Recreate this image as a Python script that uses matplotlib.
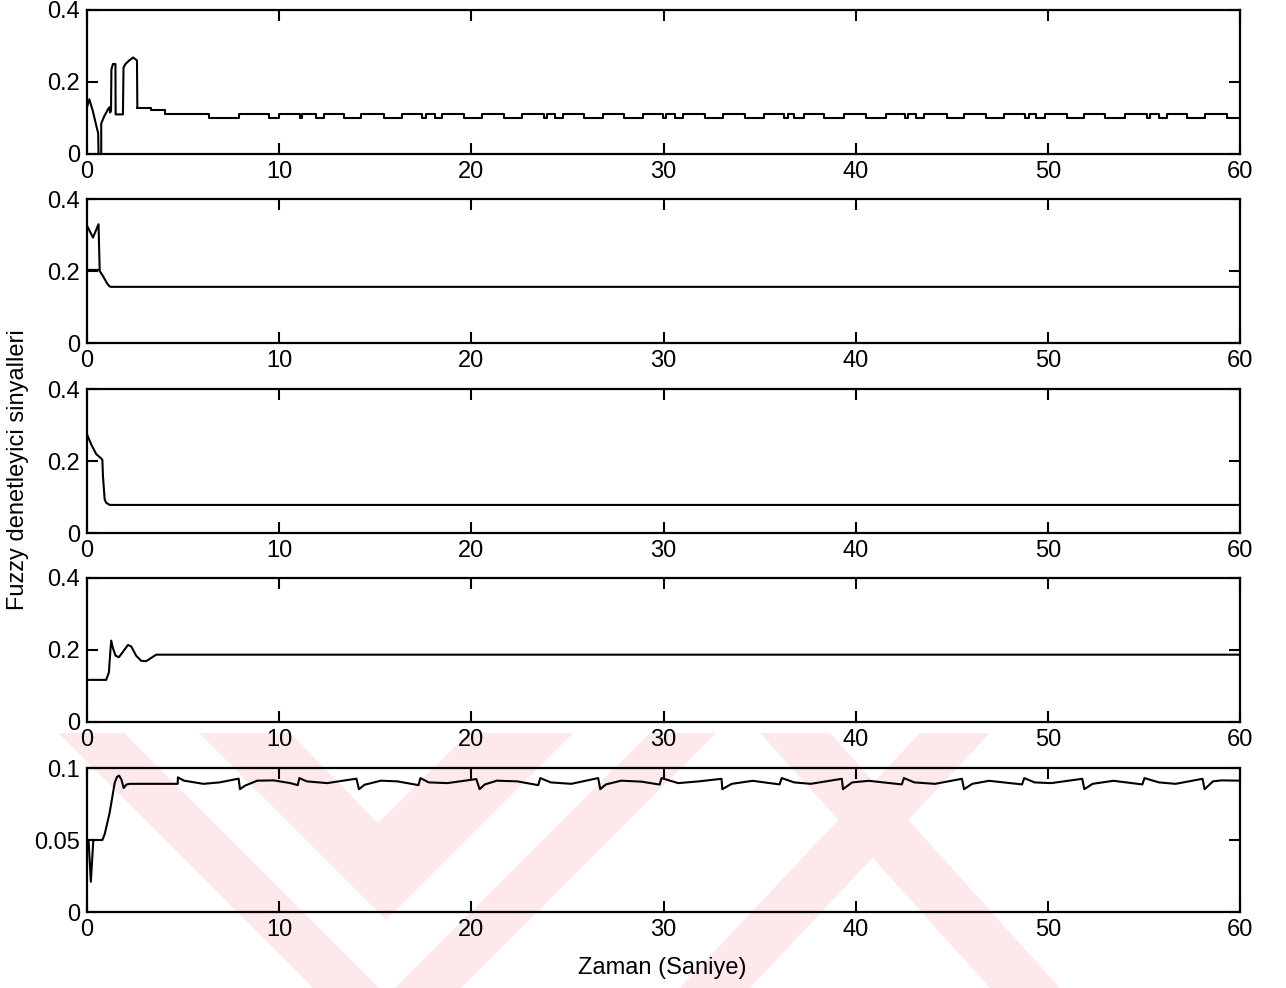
import matplotlib
matplotlib.use("Agg")
import matplotlib.pyplot as plt
from matplotlib.patches import Polygon

plt.rcParams["font.family"] = ["Liberation Sans", "DejaVu Sans"]

# --- signal 1: transient, then a two-level staircase ---
p1_start_t = [0.0, 0.12, 0.30, 0.50, 0.58, 0.60, 0.74, 0.74, 0.90, 1.10, 1.17, 1.20,
              1.25, 1.27, 1.35, 1.48, 1.49, 1.87, 1.90, 2.00, 2.20, 2.40, 2.60, 2.62]
p1_start_y = [0.13, 0.152, 0.12, 0.075, 0.058, 0.0, 0.0, 0.085, 0.105, 0.125, 0.13, 0.115,
              0.12, 0.235, 0.25, 0.25, 0.11, 0.11, 0.24, 0.25, 0.26, 0.268, 0.26, 0.128]
p1_step_t = [2.62, 3.34, 4.08, 6.33, 7.92, 9.45, 10.0, 11.1, 11.2, 11.9, 12.34, 13.37,
             14.24, 15.46, 16.40, 17.44, 17.66, 18.13, 18.47, 19.60, 20.55, 21.68,
             22.66, 23.80, 23.92, 24.36, 24.79, 25.88, 26.87, 27.96, 28.94, 29.98,
             30.15, 30.59, 31.02, 32.14, 33.09, 34.22, 35.22, 36.29, 36.47, 36.81,
             37.33, 38.37, 39.41, 40.53, 41.57, 42.55, 42.74, 43.12, 43.56, 44.77,
             45.64, 46.76, 47.71, 48.83, 49.01, 49.40, 49.87, 50.99, 51.89, 52.98,
             54.02, 55.15, 55.32, 55.76, 56.19, 57.26, 58.17, 59.30, 60.0]
p1_step_y = [0.128, 0.121, 0.112, 0.100, 0.112, 0.100, 0.112, 0.100, 0.112, 0.100, 0.112, 0.100,
             0.112, 0.100, 0.112, 0.100, 0.112, 0.100, 0.112, 0.100, 0.112, 0.100,
             0.112, 0.100, 0.112, 0.100, 0.112, 0.100, 0.112, 0.100, 0.112, 0.100,
             0.112, 0.100, 0.112, 0.100, 0.112, 0.100, 0.112, 0.100, 0.112, 0.100,
             0.112, 0.100, 0.112, 0.100, 0.112, 0.100, 0.112, 0.100, 0.112, 0.100,
             0.112, 0.100, 0.112, 0.100, 0.112, 0.100, 0.112, 0.100, 0.112, 0.100,
             0.112, 0.100, 0.112, 0.100, 0.112, 0.100, 0.112, 0.100, 0.100]

# --- signal 2 ---
p2_a_t = [0.0, 0.62, 0.83, 1.05, 1.18, 1.26, 60.0]
p2_a_y = [0.203, 0.203, 0.186, 0.165, 0.157, 0.156, 0.156]
p2_b_t = [0.0, 0.0, 0.31, 0.60, 0.66]
p2_b_y = [0.203, 0.326, 0.293, 0.330, 0.203]

# --- signal 3 ---
p3_t = [0.0, 0.22, 0.48, 0.74, 0.80, 0.83, 0.92, 1.00, 1.18, 60.0]
p3_y = [0.274, 0.246, 0.219, 0.207, 0.203, 0.158, 0.093, 0.084, 0.078, 0.078]

# --- signal 4 ---
p4_t = [0.0, 1.00, 1.14, 1.21, 1.26, 1.35, 1.49, 1.66, 1.87, 2.13, 2.30, 2.56,
        2.82, 3.08, 3.34, 3.60, 60.0]
p4_y = [0.117, 0.117, 0.138, 0.193, 0.226, 0.205, 0.184, 0.180, 0.195, 0.214, 0.210, 0.184,
        0.170, 0.169, 0.178, 0.187, 0.187]

# --- signal 5 ---
p5_dip_t = [0.08, 0.20, 0.33]
p5_dip_y = [0.050, 0.021, 0.050]
p5_t = [0.0, 0.80, 0.92, 1.18, 1.44, 1.56, 1.67, 1.79, 1.91, 2.05, 2.22, 4.72,
        4.73, 5.05, 6.06, 6.90, 7.89, 7.96, 8.22, 8.86, 9.72, 10.58, 10.97,
        11.05, 11.44, 12.5, 14.02, 14.15, 14.45, 15.30, 16.16, 17.25, 17.35,
        17.78, 18.75, 20.26, 20.43, 20.70, 21.33, 22.40, 23.48, 23.59, 24.13,
        25.20, 26.60, 26.71, 27.00, 27.80, 28.86, 29.80, 29.90, 30.76, 31.83,
        33.02, 33.06, 33.55, 34.64, 36.04, 36.15, 36.80, 37.66, 39.28, 39.34,
        39.82, 40.68, 42.40, 42.51, 43.05, 44.13, 45.53, 45.64, 46.07, 46.94,
        48.66, 48.77, 49.31, 50.17, 51.79, 51.90, 52.33, 53.41, 54.92, 55.03,
        55.78, 56.65, 58.05, 58.16, 58.59, 59.02, 60.0]
p5_y = [0.050, 0.050, 0.054, 0.069, 0.0896, 0.0938, 0.0947, 0.092, 0.0861, 0.0885, 0.089, 0.089,
        0.0935, 0.0912, 0.089, 0.090, 0.0926, 0.0853, 0.0877, 0.0912, 0.0914, 0.0895, 0.0881,
        0.093, 0.0907, 0.0895, 0.0926, 0.0853, 0.0884, 0.0912, 0.0907, 0.0881, 0.093,
        0.090, 0.0895, 0.0923, 0.0853, 0.0886, 0.0912, 0.0907, 0.0881, 0.093, 0.090,
        0.089, 0.093, 0.0853, 0.0886, 0.0912, 0.0905, 0.0885, 0.093, 0.0895, 0.0907,
        0.0925, 0.0853, 0.089, 0.0911, 0.0886, 0.093, 0.090, 0.089, 0.0925, 0.0853,
        0.090, 0.0911, 0.0886, 0.093, 0.090, 0.089, 0.0925, 0.0853, 0.089, 0.0911,
        0.0886, 0.093, 0.090, 0.0895, 0.0925, 0.0853, 0.089, 0.0911, 0.0886, 0.093,
        0.090, 0.089, 0.0925, 0.0853, 0.0907, 0.0914, 0.0912]

x_ticks = [0, 10, 20, 30, 40, 50, 60]
y_ticks_top = [0, 0.2, 0.4]
y_labels_top = ["0", "0.2", "0.4"]
y_ticks_last = [0, 0.05, 0.1]
y_labels_last = ["0", "0.05", "0.1"]

W, H = 1286, 988
fig = plt.figure(figsize=(W / 100, H / 100), dpi=100)

# light watermark bands behind the axes (pixel coords, origin top-left)
wm_color = "#fde8ec"
wm_shapes = [
    # outer chevron
    [(58, 733), (124, 733), (387, 996), (650, 733), (716, 733), (387, 1062)],
    # inner chevron with its notch
    [(199, 733), (290, 733), (378, 823), (469, 733), (573, 733), (386, 920)],
    # crossing bands on the right
    [(760, 733), (830, 733), (1060, 988), (990, 988)],
    [(680, 988), (750, 988), (990, 733), (920, 733)],
]
for shape in wm_shapes:
    pts = [(x / W, 1 - y / H) for x, y in shape]
    fig.add_artist(Polygon(pts, closed=True, facecolor=wm_color, edgecolor="none",
                           transform=fig.transFigure, zorder=-5))

left, width, height = 87 / W, (1240 - 87) / W, 144 / H
bottoms = [1 - 154 / H, 1 - 343 / H, 1 - 533 / H, 1 - 722 / H, 1 - 912 / H]
axes = [fig.add_axes([left, b, width, height]) for b in bottoms]

lw = 1.5
axes[0].plot(p1_start_t, p1_start_y, color="black", lw=lw)
axes[0].step(p1_step_t, p1_step_y, where="post", color="black", lw=lw)
axes[1].plot(p2_a_t, p2_a_y, color="black", lw=lw)
axes[1].plot(p2_b_t, p2_b_y, color="black", lw=lw)
axes[2].plot(p3_t, p3_y, color="black", lw=lw)
axes[3].plot(p4_t, p4_y, color="black", lw=lw)
axes[4].plot(p5_t, p5_y, color="black", lw=lw)
axes[4].plot(p5_dip_t, p5_dip_y, color="black", lw=lw)

for i, ax in enumerate(axes):
    ax.set_facecolor("none")
    ax.set_xlim(0, 60)
    ax.set_xticks(x_ticks)
    ax.set_xticklabels([str(v) for v in x_ticks])
    if i < 4:
        ax.set_ylim(0, 0.4)
        ax.set_yticks(y_ticks_top)
        ax.set_yticklabels(y_labels_top)
    else:
        ax.set_ylim(0, 0.1)
        ax.set_yticks(y_ticks_last)
        ax.set_yticklabels(y_labels_last)
    ax.tick_params(direction="in", length=8, width=1.5, top=True, right=True,
                   labelsize=17, pad=5)
    for sp in ax.spines.values():
        sp.set_linewidth(1.6)

fig.text(18 / W, 1 - 470 / H, "Fuzzy denetleyici sinyalleri", rotation=90,
         ha="center", va="center", fontsize=17)
fig.text(662 / W, 1 - 968 / H, "Zaman (Saniye)", ha="center", va="center", fontsize=17)

fig.savefig("out.png", dpi=100)
